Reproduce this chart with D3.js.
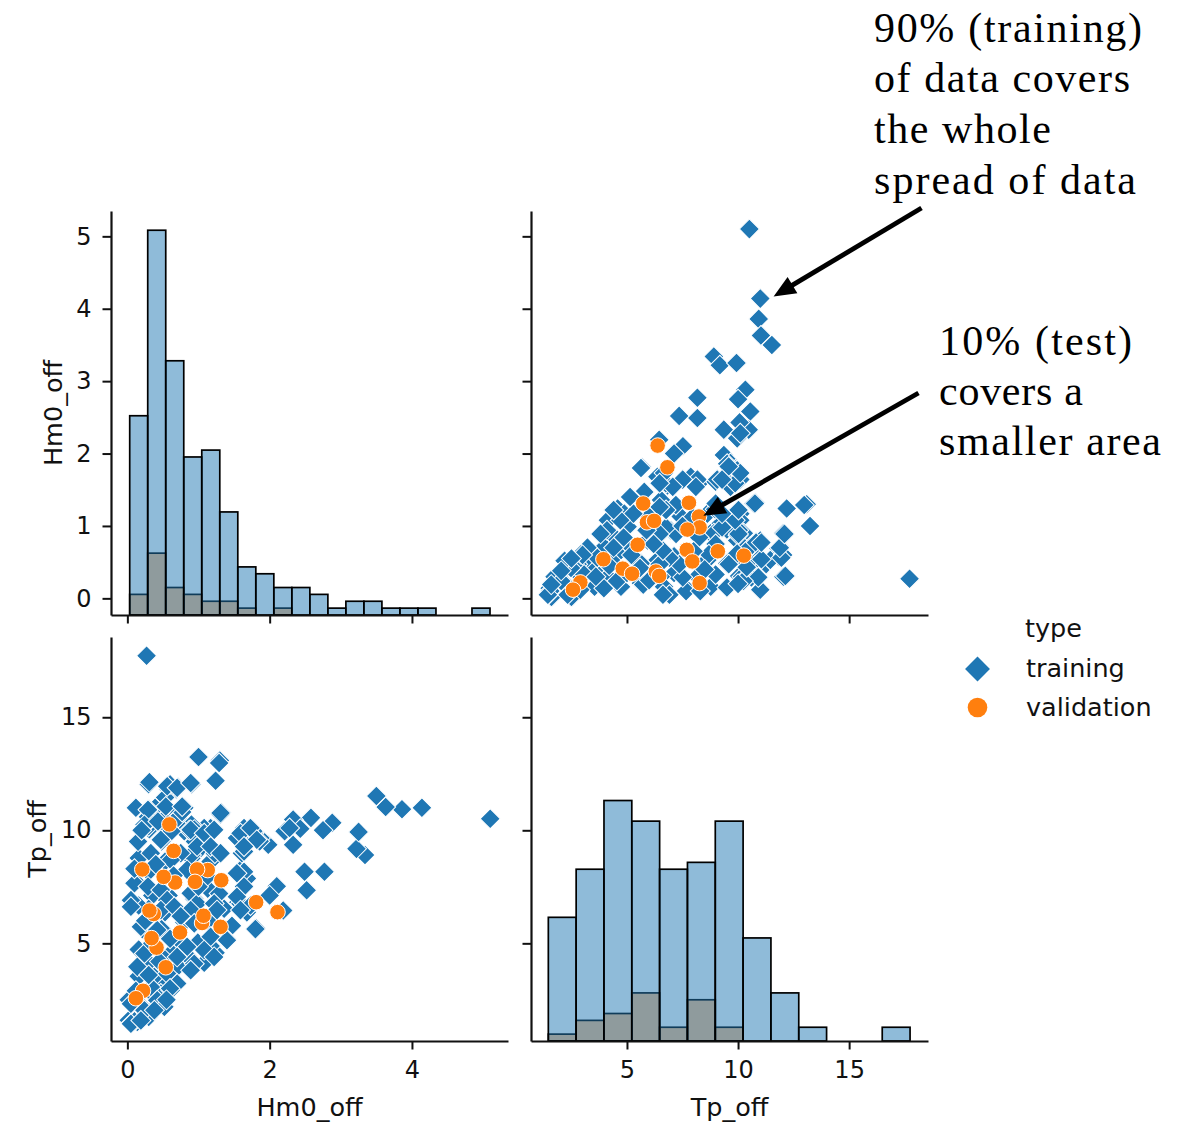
<!DOCTYPE html>
<html>
<head>
<meta charset="utf-8">
<script src="https://cdn.jsdelivr.net/npm/d3@7"></script>
<style>
  body { margin: 0; background: #fff; }
</style>
</head>
<body>
<svg id="chart" width="1186" height="1123"></svg>
<script>
// ---- data ----
// scatter points as [Hm0_off, Tp_off]
const trainingPoints = [
  [5.10,10.51],[4.14,11.00],[3.86,10.93],[3.63,11.03],[3.50,11.52],[3.34,8.91],[3.22,9.18],[3.25,9.93],
  [2.77,8.17],[2.52,7.35],[2.49,8.17],[2.88,10.33],[2.75,10.00],[2.58,10.55],[2.33,9.36],[2.33,10.48],
  [2.21,9.96],[2.43,10.07],[2.28,10.10],[0.27,17.72],
  [2.10,7.52],[2.00,7.12],[2.19,6.45],[1.81,5.67],[1.80,5.63],[1.56,6.82],[1.68,6.37],[1.68,7.87],
  [1.59,8.24],[1.61,8.99],[1.66,9.58],[1.64,10.10],[1.98,9.36],[1.87,9.66],[1.78,9.88],[1.86,9.51],
  [1.77,9.96],[1.64,8.17],[1.64,9.06],[1.54,9.66],[1.59,6.75],[1.73,6.67],[1.47,5.78],[1.36,6.53],
  [1.40,5.18],[1.24,4.58],
  [1.32,10.78],[1.31,10.70],[1.24,12.19],[1.30,13.09],[1.00,13.24],[1.17,10.10],[1.08,10.10],[1.04,9.36],
  [1.17,8.62],[1.13,7.42],[1.03,9.21],[1.13,6.00],[1.17,4.88],[1.08,4.14],[0.99,5.03],[1.23,8.97],[1.29,7.20],
  [0.90,12.04],[0.71,11.90],[0.78,11.00],[0.90,10.26],[0.94,10.03],[0.90,8.76],[0.94,6.97],[0.90,8.91],
  [0.80,9.96],[0.71,10.55],[0.80,11.00],[0.69,11.82],[0.94,6.67],[0.80,5.93],[0.85,4.43],[0.71,3.98],
  [0.71,5.18],[0.95,9.50],[0.87,10.00],[0.77,10.81],
  [0.58,11.82],[0.53,11.45],[0.54,10.92],[0.54,10.20],[0.53,10.10],[0.46,10.78],[0.48,10.55],[0.62,9.96],
  [0.48,9.51],[0.53,8.62],[0.58,7.12],[0.53,6.38],[0.48,5.63],[0.62,4.58],[0.53,4.28],[0.44,3.69],
  [0.44,3.24],[0.48,2.64],[0.39,2.20],[0.39,11.00],[0.60,12.03],
  [0.30,12.04],[0.31,12.13],[0.12,11.00],[0.30,10.93],[0.29,10.60],[0.31,10.05],[0.30,10.18],[0.35,7.12],
  [0.12,7.72],[0.16,8.77],[0.30,10.40],[0.07,6.82],[0.30,8.17],[0.30,6.52],[0.30,1.74],[0.14,1.52],
  [0.21,2.20],[0.30,2.94],[0.16,3.54],[0.30,4.14],[0.16,4.73],[0.02,2.50],[0.02,1.60],[0.21,5.63],
  [0.16,6.67],[0.05,1.46],[0.10,1.55],
  [0.56,11.95],[0.70,11.88],[0.89,12.09],[1.29,12.98],[0.29,10.91],[0.54,11.05],[0.77,11.05],[0.24,10.24],
  [0.43,10.39],[0.89,10.02],[1.08,9.87],[1.31,10.76],[1.22,10.02],[1.59,9.87],[1.73,10.10],[1.82,9.58],
  [1.64,9.28],[0.98,9.28],[1.17,9.28],[1.31,8.99],[0.47,9.58],[0.33,8.99],[0.75,8.99],[0.61,8.69],
  [0.84,8.25],[1.12,7.95],[1.54,8.10],[1.64,7.51],[0.10,7.66],[0.29,7.51],[0.47,7.36],[0.05,6.91],
  [0.56,6.91],[0.89,7.21],[0.98,6.76],[1.22,6.76],[1.54,7.06],
  [0.05,6.62],[0.47,6.47],[0.66,6.62],[0.89,6.47],[1.26,6.47],[1.59,6.47],[0.19,5.73],[0.42,5.59],
  [0.94,5.88],[1.17,5.29],[1.40,5.14],[1.08,4.70],[0.84,4.85],[0.70,4.40],[0.94,4.10],[1.22,4.40],
  [0.24,4.55],[0.14,3.96],[0.38,3.52],[0.56,3.66],[0.70,3.22],[0.47,2.78],[0.33,3.07],[0.05,2.33],
  [0.24,2.04],[0.42,2.48],[0.52,2.19],[0.05,1.44],[0.19,1.59],[0.38,2.04],[0.61,2.93],[0.89,3.81],
  [0.15,9.50],[0.20,10.00],[0.10,8.30],[0.40,8.50],[0.25,6.00],[0.35,5.00],[0.60,5.20],[0.75,6.20],
  [1.00,7.50],[0.65,8.00],[0.45,4.20],[0.60,3.00],[0.30,3.60],[0.12,2.90],[0.55,2.50]
];
const validationPoints = [
  [2.11,6.38],[1.81,6.82],[1.31,5.73],[1.32,7.79],[1.13,8.24],[0.98,8.27],[0.95,7.72],[1.05,5.90],
  [1.07,6.22],[0.74,5.48],[0.67,7.69],[0.51,7.94],[0.65,9.09],[0.59,10.26],[0.54,3.94],[0.41,4.81],
  [0.34,5.23],[0.37,6.30],[0.31,6.45],[0.21,8.27],[0.22,2.90],[0.12,2.57]
];

// histogram counts (layered, each from zero)
const hm0BinStart = 0.033, hm0BinWidth = 0.2532;
const hm0TrainCounts = [29, 56, 37, 23, 24, 15, 7, 6, 4, 4, 3, 1, 2, 2, 1, 1, 1, 0, 0, 1];
const hm0ValidCounts = [3, 9, 4, 3, 2, 2, 1, 0, 1, 0, 0, 0, 0, 0, 0, 0, 0, 0, 0, 0];
const tpBinStart = 1.46, tpBinWidth = 1.2525;
const tpTrainCounts = [18, 25, 35, 32, 25, 26, 32, 15, 7, 2, 0, 0, 2];
const tpValidCounts = [1, 3, 4, 7, 2, 6, 2, 0, 0, 0, 0, 0, 0];

const hm0XTicks = [0, 2, 4];
const hm0YTicks = [0, 1, 2, 3, 4, 5];
const tpTicks = [5, 10, 15];
const types = ["training", "validation"];

// ---- layout ----
const blue = "#1f77b4", orange = "#ff7f0e", ink = "#111";
const sans = "'DejaVu Sans', sans-serif";
const svg = d3.select("#chart");

const xHm0 = d3.scaleLinear().domain([-0.23, 5.35]).range([111, 508]);
const xTp = d3.scaleLinear().domain([0.68, 18.55]).range([531, 928]);
const yHm0 = d3.scaleLinear().domain([-0.23, 5.35]).range([615, 211]);
const yTp = d3.scaleLinear().domain([0.68, 18.55]).range([1041, 637]);
// diagonal histograms share one count axis
const maxCount = d3.max([...hm0TrainCounts, ...tpTrainCounts]);
const yCountTop = d3.scaleLinear().domain([0, maxCount * 1.05]).range([615, 211]);
const yCountBot = d3.scaleLinear().domain([0, maxCount * 1.05]).range([1041, 637]);

const diamond = d3.symbol(d3.symbolSquare, 200)();
const legendDiamond = d3.symbol(d3.symbolSquare, 310)();

function drawHist(counts, start, width, x, y, color) {
  const bins = counts.map((c, i) => ({ x0: start + i * width, x1: start + (i + 1) * width, c }))
    .filter(d => d.c > 0);
  svg.append("g").selectAll("rect")
    .data(bins)
    .join("rect")
    .attr("x", d => x(d.x0))
    .attr("width", d => x(d.x1) - x(d.x0))
    .attr("y", d => y(d.c))
    .attr("height", d => y(0) - y(d.c))
    .attr("fill", color)
    .attr("fill-opacity", 0.5)
    .attr("stroke", "#000")
    .attr("stroke-width", 1.7);
}

function drawScatter(x, y, xi, yi) {
  const g = svg.append("g");
  g.selectAll("path")
    .data(trainingPoints)
    .join("path")
    .attr("d", diamond)
    .attr("transform", d => `translate(${x(d[xi])},${y(d[yi])}) rotate(45)`)
    .attr("fill", blue)
    .attr("stroke", "#fff")
    .attr("stroke-width", 1);
  g.selectAll("circle")
    .data(validationPoints)
    .join("circle")
    .attr("cx", d => x(d[xi]))
    .attr("cy", d => y(d[yi]))
    .attr("r", 7.8)
    .attr("fill", orange)
    .attr("stroke", "#fff")
    .attr("stroke-width", 1);
}

function styleAxis(g) {
  g.attr("font-family", sans).attr("font-size", 24);
  g.select(".domain").attr("stroke", ink).attr("stroke-width", 2.2);
  g.selectAll(".tick line").attr("stroke", ink).attr("stroke-width", 2);
  g.selectAll(".tick text").attr("fill", ink);
}

function bottomAxis(x, yPos, labels) {
  svg.append("g")
    .attr("transform", `translate(0,${yPos})`)
    .call(d3.axisBottom(x).tickValues(x === xHm0 ? hm0XTicks : tpTicks)
      .tickSize(8.5).tickSizeOuter(0).tickPadding(11)
      .tickFormat(labels ? d3.format("d") : ""))
    .call(styleAxis);
}

function leftAxis(y, xPos, labels) {
  svg.append("g")
    .attr("transform", `translate(${xPos},0)`)
    .call(d3.axisLeft(y).tickValues(y === yHm0 ? hm0YTicks : tpTicks)
      .tickSize(8.5).tickSizeOuter(0).tickPadding(11)
      .tickFormat(labels ? d3.format("d") : ""))
    .call(styleAxis);
}

// top-left: Hm0 histogram
drawHist(hm0ValidCounts, hm0BinStart, hm0BinWidth, xHm0, yCountTop, orange);
drawHist(hm0TrainCounts, hm0BinStart, hm0BinWidth, xHm0, yCountTop, blue);
// bottom-right: Tp histogram
drawHist(tpValidCounts, tpBinStart, tpBinWidth, xTp, yCountBot, orange);
drawHist(tpTrainCounts, tpBinStart, tpBinWidth, xTp, yCountBot, blue);
// off-diagonal scatters
drawScatter(xTp, yHm0, 1, 0);
drawScatter(xHm0, yTp, 0, 1);

// axes
bottomAxis(xHm0, 615, false);
bottomAxis(xTp, 615, false);
bottomAxis(xHm0, 1041, true);
bottomAxis(xTp, 1041, true);
leftAxis(yHm0, 111, true);
leftAxis(yHm0, 531, false);
leftAxis(yTp, 111, true);
leftAxis(yTp, 531, false);

// axis labels
const labelFont = 25.5;
svg.append("text").attr("x", 309.5).attr("y", 1116).attr("text-anchor", "middle")
  .attr("font-family", sans).attr("font-size", labelFont).attr("fill", ink).text("Hm0_off");
svg.append("text").attr("x", 729.5).attr("y", 1116).attr("text-anchor", "middle")
  .attr("font-family", sans).attr("font-size", labelFont).attr("fill", ink).text("Tp_off");
svg.append("text").attr("transform", "translate(62,413) rotate(-90)").attr("text-anchor", "middle")
  .attr("font-family", sans).attr("font-size", labelFont).attr("fill", ink).text("Hm0_off");
svg.append("text").attr("transform", "translate(46,839) rotate(-90)").attr("text-anchor", "middle")
  .attr("font-family", sans).attr("font-size", labelFont).attr("fill", ink).text("Tp_off");

// legend
const legend = svg.append("g").attr("font-family", sans).attr("font-size", 25.5).attr("fill", ink);
legend.append("text").attr("x", 1025).attr("y", 637).text("type");
legend.append("path").attr("d", legendDiamond)
  .attr("transform", "translate(977.5,669) rotate(45)").attr("fill", blue);
legend.append("circle").attr("cx", 977.5).attr("cy", 707.5).attr("r", 9.8).attr("fill", orange);
legend.selectAll("text.item")
  .data(types)
  .join("text")
  .attr("class", "item")
  .attr("x", 1026)
  .attr("y", (d, i) => 677 + i * 39)
  .text(d => d);

// annotations
const serif = "'Liberation Serif', 'Times New Roman', serif";
const notes = [
  { x: 874, lines: [["90% (training)", 42, 268], ["of data covers", 92, 256], ["the whole", 143, 177], ["spread of data", 194, 262]] },
  { x: 939, lines: [["10% (test)", 355, 193], ["covers a", 405, 144], ["smaller area", 455, 222]] }
];
notes.forEach(n => {
  n.lines.forEach(([t, y, len]) => {
    svg.append("text")
      .attr("x", n.x).attr("y", y)
      .attr("font-family", serif).attr("font-size", 42).attr("fill", "#000")
      .attr("textLength", len).attr("lengthAdjust", "spacing")
      .text(t);
  });
});

function arrow(x1, y1, x2, y2) {
  const headLen = 22, headW = 19;
  const dx = x2 - x1, dy = y2 - y1, L = Math.hypot(dx, dy);
  const ux = dx / L, uy = dy / L;
  const bx = x2 - ux * headLen, by = y2 - uy * headLen;
  svg.append("line")
    .attr("x1", x1).attr("y1", y1).attr("x2", bx + ux * 2).attr("y2", by + uy * 2)
    .attr("stroke", "#000").attr("stroke-width", 4.8);
  svg.append("path")
    .attr("d", `M${x2},${y2} L${bx - uy * headW / 2},${by + ux * headW / 2} L${bx + uy * headW / 2},${by - ux * headW / 2} Z`)
    .attr("fill", "#000");
}
arrow(921.5, 208, xTp(11.6), yHm0(4.17));
arrow(918.5, 393, xTp(8.44), yHm0(1.14));
</script>
</body>
</html>
